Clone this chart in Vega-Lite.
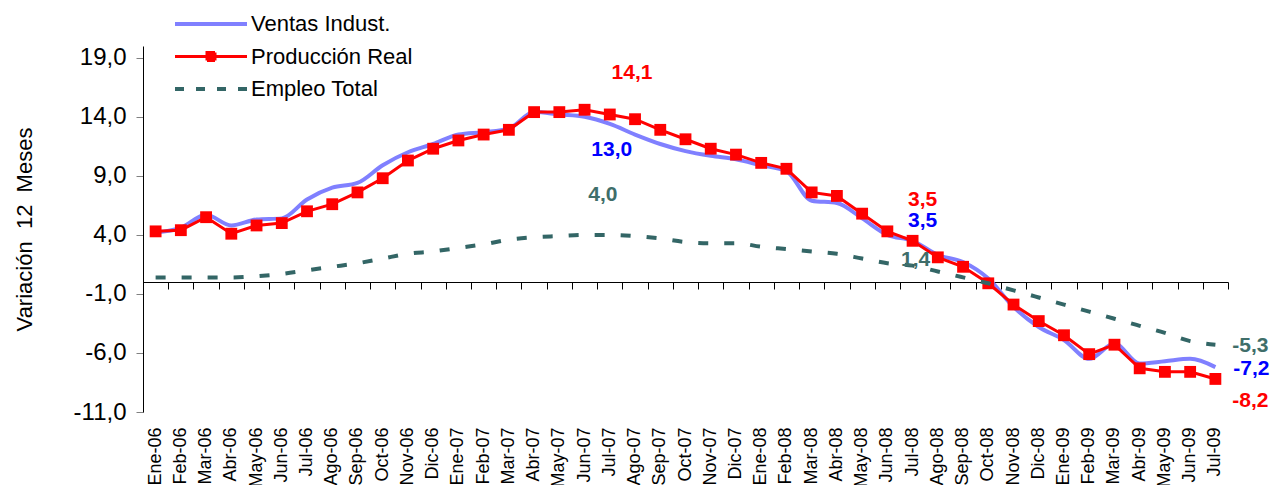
{
  "$schema": "https://vega.github.io/schema/vega-lite/v6.json",
  "width": 1085,
  "height": 366,
  "autosize": {"type": "none"},
  "padding": {"left": 143, "top": 46, "right": 46, "bottom": 73},
  "background": "white",
  "config": {
    "view": {"stroke": null},
    "font": "Liberation Sans",
    "axis": {"labelFont": "Liberation Sans", "titleFont": "Liberation Sans", "labelColor": "black", "titleColor": "black", "grid": false, "domainColor": "black"}
  },
  "datasets": {
    "serie": [
      {"mes": "Ene-06", "ventas": 4.2, "prod": 4.3, "empleo": 0.4},
      {"mes": "Feb-06", "ventas": 4.6, "prod": 4.4, "empleo": 0.4},
      {"mes": "Mar-06", "ventas": 5.7, "prod": 5.5, "empleo": 0.4},
      {"mes": "Abr-06", "ventas": 4.8, "prod": 4.1, "empleo": 0.4},
      {"mes": "May-06", "ventas": 5.3, "prod": 4.8, "empleo": 0.5},
      {"mes": "Jun-06", "ventas": 5.4, "prod": 5.0, "empleo": 0.7},
      {"mes": "Jul-06", "ventas": 7.0, "prod": 6.0, "empleo": 1.0},
      {"mes": "Ago-06", "ventas": 8.0, "prod": 6.6, "empleo": 1.3},
      {"mes": "Sep-06", "ventas": 8.4, "prod": 7.6, "empleo": 1.6},
      {"mes": "Oct-06", "ventas": 9.9, "prod": 8.8, "empleo": 2.0},
      {"mes": "Nov-06", "ventas": 11.0, "prod": 10.3, "empleo": 2.4},
      {"mes": "Dic-06", "ventas": 11.7, "prod": 11.3, "empleo": 2.6},
      {"mes": "Ene-07", "ventas": 12.5, "prod": 12.0, "empleo": 2.9},
      {"mes": "Feb-07", "ventas": 12.7, "prod": 12.5, "empleo": 3.2},
      {"mes": "Mar-07", "ventas": 13.0, "prod": 12.9, "empleo": 3.6},
      {"mes": "Abr-07", "ventas": 14.4, "prod": 14.4, "empleo": 3.8},
      {"mes": "May-07", "ventas": 14.2, "prod": 14.4, "empleo": 3.9},
      {"mes": "Jun-07", "ventas": 14.0, "prod": 14.6, "empleo": 4.0},
      {"mes": "Jul-07", "ventas": 13.4, "prod": 14.2, "empleo": 4.0},
      {"mes": "Ago-07", "ventas": 12.5, "prod": 13.8, "empleo": 3.9},
      {"mes": "Sep-07", "ventas": 11.7, "prod": 12.9, "empleo": 3.7},
      {"mes": "Oct-07", "ventas": 11.1, "prod": 12.1, "empleo": 3.4},
      {"mes": "Nov-07", "ventas": 10.7, "prod": 11.3, "empleo": 3.3},
      {"mes": "Dic-07", "ventas": 10.4, "prod": 10.8, "empleo": 3.3},
      {"mes": "Ene-08", "ventas": 9.9, "prod": 10.1, "empleo": 3.0},
      {"mes": "Feb-08", "ventas": 9.4, "prod": 9.6, "empleo": 2.8},
      {"mes": "Mar-08", "ventas": 6.9, "prod": 7.6, "empleo": 2.6},
      {"mes": "Abr-08", "ventas": 6.7, "prod": 7.3, "empleo": 2.4},
      {"mes": "May-08", "ventas": 5.4, "prod": 5.8, "empleo": 2.0},
      {"mes": "Jun-08", "ventas": 4.0, "prod": 4.3, "empleo": 1.6},
      {"mes": "Jul-08", "ventas": 3.5, "prod": 3.5, "empleo": 1.4},
      {"mes": "Ago-08", "ventas": 2.3, "prod": 2.1, "empleo": 0.9},
      {"mes": "Sep-08", "ventas": 1.7, "prod": 1.3, "empleo": 0.4},
      {"mes": "Oct-08", "ventas": 0.3, "prod": -0.1, "empleo": -0.1},
      {"mes": "Nov-08", "ventas": -2.1, "prod": -1.9, "empleo": -0.7},
      {"mes": "Dic-08", "ventas": -3.8, "prod": -3.3, "empleo": -1.3},
      {"mes": "Ene-09", "ventas": -4.9, "prod": -4.5, "empleo": -1.9},
      {"mes": "Feb-09", "ventas": -6.5, "prod": -6.1, "empleo": -2.5},
      {"mes": "Mar-09", "ventas": -5.2, "prod": -5.3, "empleo": -3.1},
      {"mes": "Abr-09", "ventas": -6.9, "prod": -7.3, "empleo": -3.7},
      {"mes": "May-09", "ventas": -6.7, "prod": -7.6, "empleo": -4.3},
      {"mes": "Jun-09", "ventas": -6.5, "prod": -7.6, "empleo": -5.0},
      {"mes": "Jul-09", "ventas": -7.2, "prod": -8.2, "empleo": -5.3}
    ],
    "etiquetas": [
      {"id": "p1", "mes": "Ago-07", "valor": 14.1, "texto": "14,1"},
      {"id": "v1", "mes": "Jul-07", "valor": 13.0, "texto": "13,0"},
      {"id": "e1", "mes": "Jul-07", "valor": 4.0, "texto": "4,0"},
      {"id": "p2", "mes": "Jul-08", "valor": 3.5, "texto": "3,5"},
      {"id": "v2", "mes": "Jul-08", "valor": 3.5, "texto": "3,5"},
      {"id": "e2", "mes": "Jul-08", "valor": 1.4, "texto": "1,4"},
      {"id": "e3", "mes": "Jul-09", "valor": -5.3, "texto": "-5,3"},
      {"id": "v3", "mes": "Jul-09", "valor": -7.2, "texto": "-7,2"},
      {"id": "p3", "mes": "Jul-09", "valor": -8.2, "texto": "-8,2"}
    ]
  },
  "resolve": {"axis": {"x": "independent"}},
  "layer": [
    {
      "data": {"name": "serie"},
      "mark": {"type": "line", "interpolate": "monotone", "strokeWidth": 4},
      "encoding": {
        "x": {
          "field": "mes", "type": "ordinal", "bandPosition": 0.5,
          "scale": {"type": "band", "paddingInner": 0, "paddingOuter": 0,
            "domain": ["Ene-06","Feb-06","Mar-06","Abr-06","May-06","Jun-06","Jul-06","Ago-06","Sep-06","Oct-06","Nov-06","Dic-06","Ene-07","Feb-07","Mar-07","Abr-07","May-07","Jun-07","Jul-07","Ago-07","Sep-07","Oct-07","Nov-07","Dic-07","Ene-08","Feb-08","Mar-08","Abr-08","May-08","Jun-08","Jul-08","Ago-08","Sep-08","Oct-08","Nov-08","Dic-08","Ene-09","Feb-09","Mar-09","Abr-09","May-09","Jun-09","Jul-09"]},
          "axis": {"orient": "bottom", "title": null, "labelAngle": -90, "labelFontSize": 18, "domain": false, "ticks": false, "labelPadding": 15}
        },
        "y": {
          "field": "ventas", "type": "quantitative", "title": "Variación\u00a0 12\u00a0 Meses",
          "scale": {"domain": [-11, 20], "nice": false, "zero": false},
          "axis": {"values": [-11, -6, -1, 4, 9, 14, 19], "labelExpr": "replace(replace(format(datum.value, '.1f'), '.', ','), '\u2212', '-')", "labelFontSize": 24, "labelPadding": 10, "tickSize": 7, "tickColor": "#808080", "titleFontSize": 22, "titleFontWeight": "normal", "titlePadding": 37}
        },
        "color": {
          "datum": "Ventas Indust.",
          "scale": {"domain": ["Ventas Indust.", "Producción Real", "Empleo Total"], "range": ["#8080FF", "#FF0000", "#336666"]},
          "legend": {
            "title": null, "orient": "none", "legendX": 57, "legendY": -33, "padding": 0, "offset": 0,
            "labelFont": "Liberation Sans", "labelFontSize": 22, "labelColor": "black", "labelOffset": 29, "labelLimit": 400,
            "symbolSize": 400, "symbolStrokeWidth": 4, "rowPadding": 10.5,
            "encode": {"symbols": {"update": {
              "shape": {"signal": "datum.value === 'Producción Real' ? 'M-3.6,0H3.6M-0.4,-0.4H0.4V0.4H-0.4Z' : 'M-3.6,0H3.6'"},
              "fill": {"signal": "datum.value === 'Producción Real' ? '#FF0000' : 'transparent'"},
              "strokeWidth": {"signal": "datum.value === 'Producción Real' ? 3 : 4"},
              "strokeDash": {"signal": "datum.value === 'Empleo Total' ? [9, 12] : [1, 0]"}
            }}}
          }
        }
      }
    },
    {
      "data": {"name": "serie"},
      "mark": {"type": "line", "strokeWidth": 3},
      "encoding": {
        "x": {"field": "mes", "type": "ordinal", "bandPosition": 0.5, "axis": null},
        "y": {"field": "prod", "type": "quantitative", "title": "Variación\u00a0 12\u00a0 Meses"},
        "color": {"datum": "Producción Real"}
      }
    },
    {
      "data": {"name": "serie"},
      "mark": {"type": "square", "size": 140, "filled": true, "opacity": 1, "color": "#FF0000"},
      "encoding": {
        "x": {"field": "mes", "type": "ordinal", "bandPosition": 0.5, "axis": null},
        "y": {"field": "prod", "type": "quantitative", "title": "Variación\u00a0 12\u00a0 Meses"}
      }
    },
    {
      "data": {"name": "serie"},
      "mark": {"type": "line", "interpolate": "monotone", "strokeWidth": 4, "strokeDash": [10, 16]},
      "encoding": {
        "x": {"field": "mes", "type": "ordinal", "bandPosition": 0.5,
          "axis": {"orient": "bottom", "title": null, "labels": false, "offset": -130, "domain": true, "domainColor": "black", "domainWidth": 1, "ticks": true, "tickBand": "extent", "tickColor": "black", "tickSize": 7}},
        "y": {"field": "empleo", "type": "quantitative", "title": "Variación\u00a0 12\u00a0 Meses"},
        "color": {"datum": "Empleo Total"}
      }
    },
    {
      "data": {"name": "etiquetas"}, "transform": [{"filter": "datum.id === 'p1'"}],
      "mark": {"type": "text", "font": "Liberation Sans", "fontSize": 21, "fontWeight": "bold", "color": "#FF0000", "dx": -3, "dy": -43},
      "encoding": {"x": {"field": "mes", "type": "ordinal", "axis": null}, "y": {"field": "valor", "type": "quantitative", "title": "Variación\u00a0 12\u00a0 Meses"}, "text": {"field": "texto"}}
    },
    {
      "data": {"name": "etiquetas"}, "transform": [{"filter": "datum.id === 'v1'"}],
      "mark": {"type": "text", "font": "Liberation Sans", "fontSize": 21, "fontWeight": "bold", "color": "#0000FF", "dx": 2, "dy": 21},
      "encoding": {"x": {"field": "mes", "type": "ordinal", "axis": null}, "y": {"field": "valor", "type": "quantitative", "title": "Variación\u00a0 12\u00a0 Meses"}, "text": {"field": "texto"}}
    },
    {
      "data": {"name": "etiquetas"}, "transform": [{"filter": "datum.id === 'e1'"}],
      "mark": {"type": "text", "font": "Liberation Sans", "fontSize": 21, "fontWeight": "bold", "color": "#3F6E6A", "dx": -7, "dy": -40},
      "encoding": {"x": {"field": "mes", "type": "ordinal", "axis": null}, "y": {"field": "valor", "type": "quantitative", "title": "Variación\u00a0 12\u00a0 Meses"}, "text": {"field": "texto"}}
    },
    {
      "data": {"name": "etiquetas"}, "transform": [{"filter": "datum.id === 'p2'"}],
      "mark": {"type": "text", "font": "Liberation Sans", "fontSize": 21, "fontWeight": "bold", "color": "#FF0000", "dx": 10, "dy": -41},
      "encoding": {"x": {"field": "mes", "type": "ordinal", "axis": null}, "y": {"field": "valor", "type": "quantitative", "title": "Variación\u00a0 12\u00a0 Meses"}, "text": {"field": "texto"}}
    },
    {
      "data": {"name": "etiquetas"}, "transform": [{"filter": "datum.id === 'v2'"}],
      "mark": {"type": "text", "font": "Liberation Sans", "fontSize": 21, "fontWeight": "bold", "color": "#0000FF", "dx": 10, "dy": -20},
      "encoding": {"x": {"field": "mes", "type": "ordinal", "axis": null}, "y": {"field": "valor", "type": "quantitative", "title": "Variación\u00a0 12\u00a0 Meses"}, "text": {"field": "texto"}}
    },
    {
      "data": {"name": "etiquetas"}, "transform": [{"filter": "datum.id === 'e2'"}],
      "mark": {"type": "text", "font": "Liberation Sans", "fontSize": 21, "fontWeight": "bold", "color": "#3F6E6A", "dx": 3, "dy": -6},
      "encoding": {"x": {"field": "mes", "type": "ordinal", "axis": null}, "y": {"field": "valor", "type": "quantitative", "title": "Variación\u00a0 12\u00a0 Meses"}, "text": {"field": "texto"}}
    },
    {
      "data": {"name": "etiquetas"}, "transform": [{"filter": "datum.id === 'e3'"}],
      "mark": {"type": "text", "font": "Liberation Sans", "fontSize": 21, "fontWeight": "bold", "color": "#3F6E6A", "dx": 35, "dy": 1},
      "encoding": {"x": {"field": "mes", "type": "ordinal", "axis": null}, "y": {"field": "valor", "type": "quantitative", "title": "Variación\u00a0 12\u00a0 Meses"}, "text": {"field": "texto"}}
    },
    {
      "data": {"name": "etiquetas"}, "transform": [{"filter": "datum.id === 'v3'"}],
      "mark": {"type": "text", "font": "Liberation Sans", "fontSize": 21, "fontWeight": "bold", "color": "#0000FF", "dx": 36, "dy": 2},
      "encoding": {"x": {"field": "mes", "type": "ordinal", "axis": null}, "y": {"field": "valor", "type": "quantitative", "title": "Variación\u00a0 12\u00a0 Meses"}, "text": {"field": "texto"}}
    },
    {
      "data": {"name": "etiquetas"}, "transform": [{"filter": "datum.id === 'p3'"}],
      "mark": {"type": "text", "font": "Liberation Sans", "fontSize": 21, "fontWeight": "bold", "color": "#FF0000", "dx": 35, "dy": 22},
      "encoding": {"x": {"field": "mes", "type": "ordinal", "axis": null}, "y": {"field": "valor", "type": "quantitative", "title": "Variación\u00a0 12\u00a0 Meses"}, "text": {"field": "texto"}}
    }
  ]
}
